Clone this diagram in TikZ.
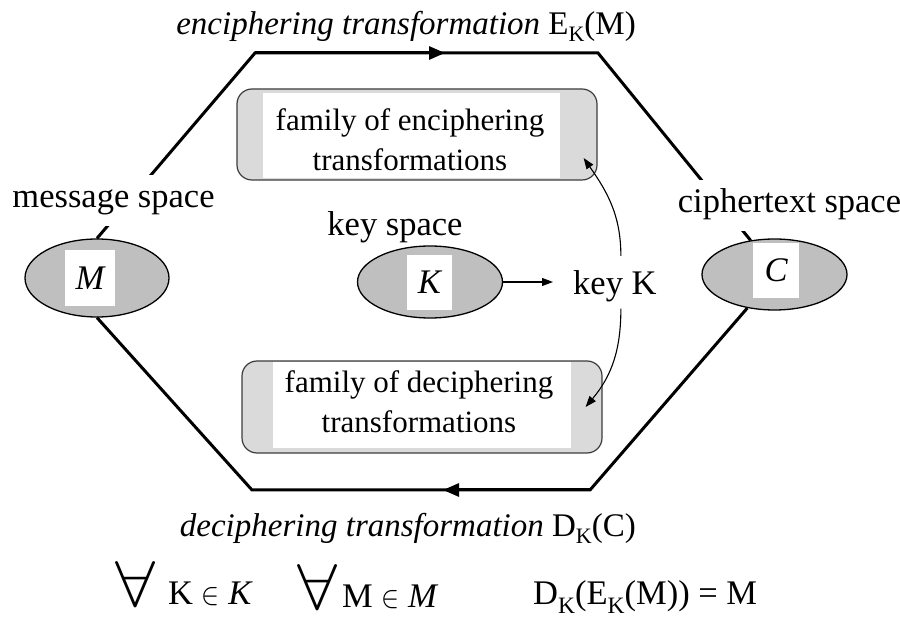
\documentclass[tikz,border=0pt]{standalone}
\usepackage{fontspec}
\setmainfont{Liberation Serif}
\usepackage{graphicx}
\usetikzlibrary{shapes.geometric,arrows.meta}

\definecolor{spacegray}{HTML}{BFBFBF}
\definecolor{framefill}{HTML}{DADADA}
\definecolor{framegray}{HTML}{3C3C3C}

% lowered subscript K (labels and condition line)
\newcommand\lowK{\raisebox{-7pt}{\fontsize{22}{22}\selectfont K}}
\newcommand\lowKf{\raisebox{-9pt}{\fontsize{23.5}{24}\selectfont K}}
% tall "for all" sign
\newcommand\bigall{\resizebox{40pt}{45pt}{$\forall$}}
% element-of sign at label size
\newcommand\inn{\resizebox{18pt}{17pt}{$\in$}}

\tikzset{
  hexline/.style={line width=3pt, line join=miter},
  hextip/.style={-{Triangle[length=16pt,width=13pt]}},
  thinarrow/.style={line width=1.1pt, -{Triangle[length=11pt,width=8pt]}},
  spaceshape/.style={ellipse, draw, line width=1.3pt, fill=spacegray, inner sep=0pt},
  letterbox/.style={fill=white, inner sep=0pt, font=\fontsize{34.5}{40}\selectfont\itshape},
  famframe/.style={rectangle, rounded corners=15pt, draw=framegray, line width=1.2pt,
    fill=framefill, minimum width=360pt, inner sep=0pt},
  panel/.style={rectangle, fill=white, inner sep=0pt},
  famtext/.style={align=center, inner sep=0pt, font=\fontsize{31}{40}\selectfont},
  lbl/.style={inner sep=0pt, font=\fontsize{34.5}{40}\selectfont},
  translbl/.style={inner sep=0pt, font=\fontsize{33}{38}\selectfont},
  spacelbl/.style={lbl, fill=white, text height=24pt, text depth=9pt,
    inner xsep=6pt, inner ysep=9pt},
}

\begin{document}
\begin{tikzpicture}[x=1pt, y=1pt]
\useasboundingbox (0,0) rectangle (900,619);

% families of transformations
\node[famframe, minimum height=91pt] (enc) at (417,484.5) {};
\node[panel, minimum width=297pt, minimum height=85.5pt] (encpanel) at (411.5,483.25) {};
\node[famtext] (enctext) at (410,479.6) {family of enciphering\\transformations};

\node[famframe, minimum height=92pt] (dec) at (422,212) {};
\node[panel, minimum width=298pt, minimum height=86.2pt] (decpanel) at (422,214.1) {};
\node[famtext] (dectext) at (419,217.6) {family of deciphering\\transformations};

% the three spaces
\node[spaceshape, minimum width=144pt, minimum height=78pt] (M) at (97,341) {};
\node[letterbox, minimum width=50pt, minimum height=56pt] (Mlet) at (90,341) {M};

\node[spaceshape, minimum width=145pt, minimum height=72pt] (K) at (430,337) {};
\node[letterbox, minimum width=45pt, minimum height=55pt] (Klet) at (429.5,336.5) {K};

\node[spaceshape, minimum width=145pt, minimum height=71pt] (C) at (774.5,344.5) {};
\node[letterbox, minimum width=46pt, minimum height=55pt] (Clet) at (776,348.5) {C};

% the chosen key
\node[lbl, anchor=base west] (keyK) at (573,324) {key K};
\draw[thinarrow] (K.east) -- ([xshift=-20pt]K.east -| keyK.west);
\draw[thinarrow] ([shift={(6pt,15pt)}]keyK.north) to[out=90,in=-55]
  ([shift={(-14pt,-23.5pt)}]enc.east);
\draw[thinarrow] ([shift={(6pt,-6pt)}]keyK.south) to[out=-90,in=50]
  ([xshift=-17pt]dec.east);

% enciphering and deciphering paths
\coordinate (tl) at (255,566);
\coordinate (tr) at (598,566);
\coordinate (tmid) at (445,566);
\coordinate (br) at (590,129);
\coordinate (bl) at (252,129);
\coordinate (bmid) at (443,129);

\draw[hexline] (M.north) -- (tl) -- (tr) -- (C.125);
\draw[hexline, hextip] (tl) -- (tmid);
\draw[hexline] (C.231) -- (br) -- (bl) -- (M.south);
\draw[hexline, hextip] (br) -- (bmid);

% labels
\node[spacelbl, anchor=base] (msg) at (113.5,411) {message space};
\node[spacelbl, anchor=base] (cip) at (789.5,406) {ciphertext space};
\node[lbl, anchor=base] (ksp) at (395,383) {key space};

\node[translbl, anchor=base east] (enclbl) at (636,584)
  {\textit{enciphering transformation} E\lowK(M)};
\node[translbl, anchor=base east] (declbl) at (636,82)
  {\textit{deciphering transformation} D\lowK(C)};

% correctness condition
\node[lbl, anchor=south west] (all1) at (115,12) {\bigall};
\node[lbl, anchor=base west] (kin) at (168,15) {K \inn{} \textit{K}};
\node[lbl, anchor=south west] (all2) at (297,9) {\bigall};
\node[lbl, anchor=base west] (min) at (342,12) {M \inn{} \textit{M}};
\node[lbl, anchor=base west] (dek) at (533,15) {D\lowKf(E\lowKf(M)) = M};
\end{tikzpicture}
\end{document}
